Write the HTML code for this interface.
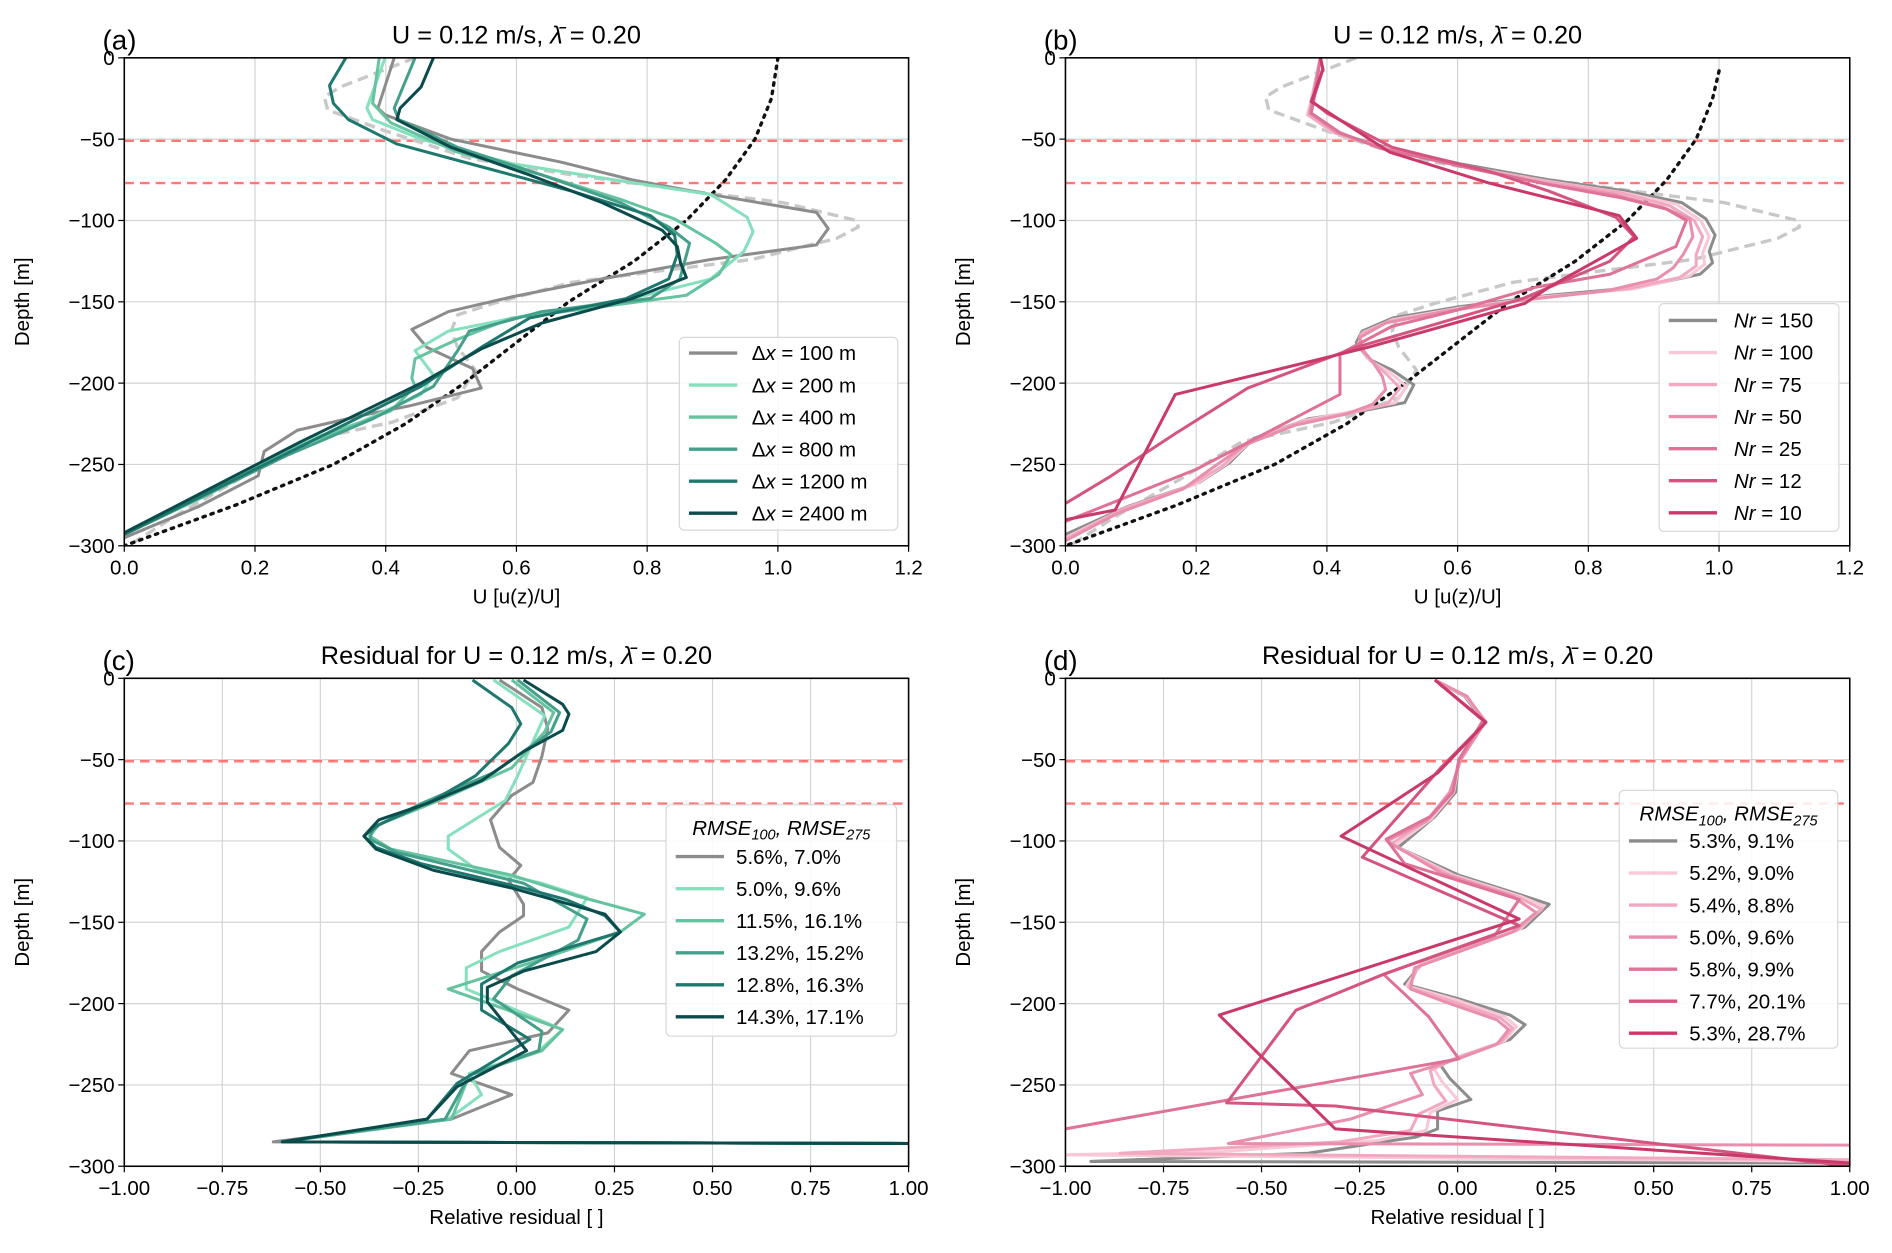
<!DOCTYPE html>
<html><head><meta charset="utf-8"><style>
html,body{margin:0;padding:0;background:#fff;}
svg{display:block;font-family:"Liberation Sans","DejaVu Sans",sans-serif;}
</style></head><body>
<svg id="fig" width="1892" height="1253" viewBox="0 0 1568 1040" preserveAspectRatio="none" xmlns="http://www.w3.org/2000/svg"></svg>
<script>
// ---------- data ----------
const depthTicks=[0,-50,-100,-150,-200,-250,-300];
const uTicks=[0,0.2,0.4,0.6,0.8,1.0,1.2];
const rTicks=[-1,-0.75,-0.5,-0.25,0,0.25,0.5,0.75,1];
const mldDepths=[-51,-77];
const refDepth=[0,-18,-24,-32,-45,-62,-72,-82,-89,-100,-104,-111,-124,-131,-138,-151,-158,-168,-178,-192,-209,-224,-236,-258,-280,-299];
const refU=[0.445,0.33,0.306,0.311,0.4,0.53,0.685,0.87,1.008,1.12,1.123,1.09,0.96,0.82,0.685,0.565,0.51,0.5,0.51,0.537,0.51,0.41,0.27,0.18,0.085,0.01];
const theoryDepth=[0,-25,-50,-75,-100,-125,-150,-175,-200,-225,-250,-275,-300];
const theoryU=[1.0,0.99,0.965,0.92,0.86,0.78,0.68,0.6,0.52,0.43,0.32,0.17,0.0];
const theoryDepthB=[-8,-25,-50,-75,-100,-125,-150,-175,-200,-225,-250,-275,-300];

const dxLabels=["Δx = 100 m","Δx = 200 m","Δx = 400 m","Δx = 800 m","Δx = 1200 m","Δx = 2400 m"];
const dx100=[[0.413,0],[0.388,-31],[0.399,-35],[0.5,-50],[0.667,-64],[0.777,-75],[0.897,-84],[1.059,-95],[1.077,-105],[1.059,-115],[0.897,-124],[0.73,-136],[0.593,-147],[0.496,-156],[0.44,-167],[0.463,-178],[0.533,-191],[0.546,-203],[0.436,-214],[0.362,-220],[0.265,-229],[0.214,-242],[0.205,-257],[0.113,-276],[0,-295]];
const dx200=[[0.399,0],[0.371,-31],[0.38,-38],[0.454,-50],[0.593,-65],[0.75,-75],[0.897,-84],[0.953,-98],[0.962,-107],[0.948,-119],[0.897,-136],[0.777,-148],[0.62,-158],[0.496,-168],[0.445,-180],[0.473,-195],[0.454,-207],[0.362,-224],[0.288,-234],[0.223,-246],[0.113,-271],[0,-293]];
const dx400=[[0.39,0],[0.38,-28],[0.408,-40],[0.51,-58],[0.639,-72],[0.759,-87],[0.842,-99],[0.905,-114],[0.928,-121],[0.91,-133],[0.86,-146],[0.73,-153],[0.593,-160],[0.51,-173],[0.445,-185],[0.44,-197],[0.445,-202],[0.408,-217],[0.251,-241],[0.131,-268],[0,-293]];
const dx800=[[0.445,0],[0.413,-31],[0.42,-38],[0.51,-55],[0.639,-72],[0.759,-89],[0.833,-104],[0.865,-114],[0.85,-136],[0.805,-148],[0.639,-156],[0.528,-168],[0.51,-180],[0.473,-202],[0.38,-222],[0.251,-244],[0,-293]];
const dx1200=[[0.339,0],[0.314,-17],[0.32,-28],[0.343,-38],[0.417,-53],[0.546,-67],[0.685,-82],[0.805,-97],[0.842,-109],[0.846,-121],[0.833,-136],[0.768,-148],[0.62,-160],[0.546,-178],[0.454,-202],[0.27,-239],[0,-293]];
const dx2400=[[0.473,0],[0.454,-18],[0.422,-31],[0.417,-38],[0.5,-55],[0.62,-72],[0.731,-89],[0.823,-106],[0.846,-116],[0.851,-126],[0.86,-135],[0.777,-148],[0.639,-163],[0.546,-179],[0.454,-200],[0.27,-236],[0,-292]];
const dxColors=["#8c8c8c","#86e0bd","#66c3a0","#44a08a","#1f786d","#0b4b4b"];

const nrLabels=["Nr = 150","Nr = 100","Nr = 75","Nr = 50","Nr = 25","Nr = 12","Nr = 10"];
const nr150=[[0.39,0],[0.376,-26],[0.371,-35],[0.408,-45],[0.471,-53],[0.602,-65],[0.74,-75],[0.86,-82],[0.943,-89],[0.98,-99],[0.994,-109],[0.985,-119],[0.99,-126],[0.971,-133],[0.879,-141],[0.74,-146],[0.602,-153],[0.5,-160],[0.454,-168],[0.445,-175],[0.463,-185],[0.5,-192],[0.533,-201],[0.519,-212],[0.454,-217],[0.371,-222],[0.288,-234],[0.251,-249],[0.205,-261],[0.094,-276],[0,-293]];
const nr100=[[0.39,0],[0.376,-26],[0.37,-35],[0.41,-46],[0.475,-54],[0.6,-66],[0.74,-76],[0.855,-83],[0.935,-90],[0.972,-100],[0.985,-110],[0.975,-120],[0.978,-127],[0.955,-134],[0.87,-142],[0.73,-147],[0.6,-154],[0.5,-161],[0.455,-169],[0.448,-176],[0.465,-186],[0.495,-193],[0.522,-202],[0.505,-212],[0.445,-217],[0.365,-223],[0.285,-235],[0.245,-250],[0.2,-262],[0.09,-277],[0,-295]];
const nr75=[[0.39,0],[0.377,-26],[0.372,-35],[0.412,-46],[0.478,-54],[0.6,-66],[0.735,-76],[0.85,-83],[0.925,-91],[0.962,-100],[0.975,-110],[0.965,-121],[0.965,-128],[0.94,-135],[0.86,-142],[0.72,-148],[0.59,-155],[0.495,-162],[0.452,-170],[0.45,-177],[0.468,-186],[0.49,-194],[0.512,-203],[0.492,-213],[0.44,-218],[0.36,-224],[0.28,-236],[0.24,-251],[0.19,-263],[0.085,-278],[0,-296]];
const nr50=[[0.39,0],[0.378,-26],[0.374,-34],[0.415,-46],[0.48,-55],[0.6,-66],[0.73,-77],[0.84,-84],[0.915,-92],[0.955,-99],[0.96,-110],[0.945,-121],[0.93,-129],[0.905,-136],[0.83,-143],[0.7,-149],[0.58,-156],[0.49,-163],[0.45,-172],[0.455,-180],[0.47,-187],[0.485,-196],[0.49,-204],[0.47,-213],[0.43,-219],[0.35,-226],[0.275,-238],[0.225,-252],[0.18,-265],[0.08,-280],[0,-297]];
const nr25=[[0.39,0],[0.38,-26],[0.376,-34],[0.42,-46],[0.485,-56],[0.62,-68],[0.74,-78],[0.85,-86],[0.92,-93],[0.95,-100],[0.934,-116],[0.833,-133],[0.72,-141],[0.6,-155],[0.5,-165],[0.42,-182],[0.42,-207],[0.2,-253],[0,-285]];
const nr12=[[0.39,0],[0.394,-7],[0.378,-27],[0.4,-34],[0.5,-55],[0.65,-70],[0.74,-82],[0.842,-98],[0.87,-110],[0.833,-125],[0.7,-148],[0.445,-178],[0.279,-203],[0.168,-231],[0.066,-258],[0,-274]];
const nr10=[[0.39,0],[0.394,-7],[0.376,-27],[0.4,-33],[0.496,-58],[0.648,-77],[0.847,-97],[0.874,-111],[0.74,-141],[0.703,-151],[0.463,-178],[0.168,-207],[0.076,-278],[0,-284]];
const nrColors=["#8c8c8c","#f8c8d7","#f2a9c0","#e98fad","#de7297","#d45580","#c9396a"];

const rmseDx=["5.6%, 7.0%","5.0%, 9.6%","11.5%, 16.1%","13.2%, 15.2%","12.8%, 16.3%","14.3%, 17.1%"];
const res100=[[-0.043,-1],[0.065,-18],[0.08,-31],[0.065,-48],[0.042,-64],[-0.012,-72],[-0.066,-87],[-0.043,-104],[0.011,-115],[-0.02,-124],[0.018,-139],[0.018,-146],[-0.043,-156],[-0.089,-168],[-0.089,-180],[0.003,-191],[0.134,-204],[0.08,-218],[-0.12,-229],[-0.166,-243],[-0.012,-256],[-0.166,-271],[-0.62,-285],[1,-286]];
const res200=[[-0.058,-1],[0.072,-23],[0.003,-60],[-0.028,-75],[-0.174,-97],[-0.174,-105],[-0.105,-117],[0.065,-126],[0.18,-135],[0.134,-153],[-0.043,-168],[-0.128,-178],[-0.128,-191],[0.118,-216],[0.057,-229],[-0.12,-243],[-0.089,-256],[-0.174,-271],[-0.597,-285],[1,-286]];
const res400=[[-0.012,-1],[0.095,-21],[0.072,-33],[-0.012,-55],[-0.197,-75],[-0.351,-90],[-0.374,-97],[-0.32,-105],[-0.012,-121],[0.157,-134],[0.326,-145],[0.265,-156],[0.034,-175],[-0.174,-191],[0.118,-216],[0.065,-229],[-0.12,-244],[-0.166,-271],[-0.597,-285],[1,-286]];
const res800=[[0.003,-1],[0.11,-21],[0.088,-33],[-0.058,-58],[-0.243,-77],[-0.366,-92],[-0.374,-99],[-0.305,-107],[0.018,-126],[0.18,-148],[0.157,-161],[-0.012,-183],[-0.058,-197],[0.065,-217],[0.057,-229],[-0.12,-244],[-0.182,-271],[-0.597,-285],[1,-286]];
const res1200=[[-0.112,-1],[-0.012,-18],[0.011,-28],[-0.02,-40],[-0.105,-60],[-0.212,-75],[-0.351,-90],[-0.389,-97],[-0.358,-104],[-0.243,-114],[0.018,-129],[0.126,-136],[0.226,-146],[0.265,-156],[0.003,-175],[-0.089,-188],[-0.089,-204],[0.034,-222],[-0.151,-249],[-0.228,-271],[-0.597,-285],[1,-286]];
const res2400=[[0.018,-1],[0.118,-16],[0.134,-22],[0.118,-32],[0.018,-45],[-0.089,-63],[-0.228,-77],[-0.351,-87],[-0.389,-97],[-0.358,-105],[-0.212,-118],[-0.012,-129],[0.226,-145],[0.265,-156],[0.203,-168],[0.018,-180],[-0.074,-190],[-0.074,-199],[0.026,-229],[-0.151,-251],[-0.228,-271],[-0.597,-285],[1,-286]];

const rmseNr=["5.3%, 9.1%","5.2%, 9.0%","5.4%, 8.8%","5.0%, 9.6%","5.8%, 9.9%","7.7%, 20.1%","5.3%, 28.7%"];
const rNr150=[[-0.058,-1],[0.018,-11],[0.065,-26],[0.003,-50],[-0.005,-70],[-0.058,-85],[-0.151,-104],[0.003,-121],[0.172,-134],[0.234,-139],[0.172,-153],[0.08,-161],[-0.089,-175],[-0.135,-188],[0.003,-197],[0.134,-207],[0.172,-213],[0.134,-222],[0.011,-232],[-0.043,-238],[-0.02,-246],[0.034,-259],[-0.051,-266],[-0.051,-277],[-0.105,-282],[-0.382,-292],[-0.935,-297],[1,-298]];
const rNr100=[[-0.058,-1],[0.02,-11],[0.068,-26],[0.005,-50],[-0.01,-70],[-0.065,-86],[-0.16,-103],[-0.01,-121],[0.16,-134],[0.22,-140],[0.16,-154],[0.07,-162],[-0.095,-176],[-0.13,-189],[0.0,-198],[0.12,-208],[0.15,-214],[0.12,-223],[0.0,-233],[-0.06,-240],[-0.04,-248],[0.0,-259],[-0.07,-267],[-0.08,-278],[-0.2,-284],[-0.6,-291],[-1,-293],[1,-297]];
const rNr75=[[-0.058,-1],[0.022,-11],[0.07,-26],[0.006,-50],[-0.015,-70],[-0.07,-86],[-0.17,-102],[-0.02,-121],[0.15,-134],[0.215,-142],[0.15,-155],[0.06,-163],[-0.1,-177],[-0.125,-190],[-0.01,-199],[0.11,-209],[0.14,-215],[0.11,-224],[-0.01,-234],[-0.07,-241],[-0.06,-250],[-0.03,-260],[-0.1,-268],[-0.12,-278],[-0.3,-285],[-0.86,-292],[1,-296]];
const rNr50=[[-0.058,-1],[0.024,-11],[0.07,-27],[0.008,-50],[-0.02,-70],[-0.08,-88],[-0.18,-100],[-0.04,-120],[0.14,-134],[0.2,-144],[0.14,-156],[0.05,-164],[-0.11,-178],[-0.12,-191],[-0.02,-200],[0.1,-210],[0.13,-216],[0.1,-225],[0.0,-234],[-0.12,-243],[-0.09,-256],[-0.274,-271],[-0.585,-286],[1,-287]];
const rNr25=[[-0.058,-1],[0.065,-26],[0.003,-50],[-0.012,-70],[-0.07,-85],[-0.182,-99],[-0.135,-114],[0.157,-136],[0.095,-158],[-0.05,-170],[-0.189,-182],[-0.074,-208],[0.003,-234],[-1,-277]];
const rNr12=[[-0.058,-1],[0.072,-27],[-0.043,-55],[-0.243,-110],[0.157,-152],[-0.189,-182],[-0.412,-204],[-0.589,-261],[-0.312,-263],[1,-300]];
const rNr10=[[-0.058,-1],[0.072,-27],[-0.05,-58],[-0.297,-97],[0.157,-148],[-0.608,-207],[-0.312,-277],[1,-298]];

// ---------- drawing ----------
const svg=document.getElementById('fig');
const NS='http://www.w3.org/2000/svg';
function mk(tag,attrs,parent){const e=document.createElementNS(NS,tag);for(const k in attrs)e.setAttribute(k,attrs[k]);(parent||svg).appendChild(e);return e;}
function fmt(v,dec){let s=v.toFixed(dec);if(v<0)s='−'+s.slice(1);return s;}

function panel(o){
  const g=mk('g',{});
  
  
  const X=v=>o.x0+(v-o.xmin)/(o.xmax-o.xmin)*(o.x1-o.x0);
  const Y=d=>o.y0+(-d)/300*(o.y1-o.y0);
  o.xt.forEach(t=>{const l=mk('line',{x1:X(t),x2:X(t),y1:o.y0,y2:o.y1,stroke:'#d4d4d4','stroke-width':1},g);});
  depthTicks.forEach(t=>{const l=mk('line',{x1:o.x0,x2:o.x1,y1:Y(t),y2:Y(t),stroke:'#d4d4d4','stroke-width':1},g);});
  mldDepths.forEach(d=>{const l=mk('line',{x1:o.x0,x2:o.x1,y1:Y(d),y2:Y(d),stroke:'#ff6b6b','stroke-width':2,'stroke-dasharray':'8,5',opacity:0.9},g);});
  const clip='c'+o.name;
  const cp=mk('clipPath',{id:clip},g);mk('rect',{x:o.x0,y:o.y0,width:o.x1-o.x0,height:o.y1-o.y0},cp);
  const lg=mk('g',{'clip-path':'url(#'+clip+')'},g);
  function poly(pts,attrs,name){const d=pts.map((p,i)=>(i?'L':'M')+X(p[0]).toFixed(1)+','+Y(p[1]).toFixed(1)).join(' ');const p=mk('path',Object.assign({d:d,fill:'none','stroke-linejoin':'round'},attrs),lg);}
  if(o.ref){poly(refU.map((u,i)=>[u,refDepth[i]]),{stroke:'#c8c8c8','stroke-width':2.8,'stroke-dasharray':'9,5'},'reference-profile');
    const td=o.tdepth;
    poly(theoryU.map((u,i)=>[u,td[i]]),{stroke:'#111','stroke-width':2.8,'stroke-dasharray':'2,5','stroke-linecap':'round'},'theory-profile');}
  o.series.forEach((s,i)=>poly(s,{stroke:o.colors[i],'stroke-width':2.5},'series-'+o.keys[i]));
  const fr=mk('rect',{x:o.x0,y:o.y0,width:o.x1-o.x0,height:o.y1-o.y0,fill:'none',stroke:'#000','stroke-width':1.3},g);
  o.xt.forEach(t=>{mk('line',{x1:X(t),x2:X(t),y1:o.y1,y2:o.y1+5,stroke:'#000'},g);const tx=mk('text',{x:X(t),y:o.y1+24,'text-anchor':'middle','font-size':17},g);tx.textContent=fmt(t,o.dec);});
  depthTicks.forEach(t=>{mk('line',{x1:o.x0-5,x2:o.x0,y1:Y(t),y2:Y(t),stroke:'#000'},g);const tx=mk('text',{x:o.x0-8,y:Y(t)+6,'text-anchor':'end','font-size':17},g);tx.textContent=t===0?'0':fmt(t,0);});
  const xl=mk('text',{x:(o.x0+o.x1)/2,y:o.y1+48,'text-anchor':'middle','font-size':17},g);xl.textContent=o.xlabel;
  const yl=mk('text',{x:0,y:0,'text-anchor':'middle','font-size':17,transform:`translate(${o.x0-79},${(o.y0+o.y1)/2}) rotate(-90)`},g);yl.textContent='Depth [m]';
  const ti=mk('text',{x:(o.x0+o.x1)/2,y:o.y0-12,'text-anchor':'middle','font-size':21},g);ti.innerHTML=o.title+'<tspan font-style="italic">λ̄</tspan> = 0.20';
  const pl=mk('text',{x:o.x0-18,y:o.y0-7,'font-size':23},g);pl.textContent=o.letter;
  const L=o.leg;const lb=mk('rect',{x:L.x,y:L.y,width:L.w,height:L.h,rx:4,fill:'#fff','fill-opacity':0.85,stroke:'#d8d8d8'},g);
  let y=L.y+L.first;
  if(L.title){const tt=mk('text',{x:L.x+L.w/2,y:L.y+25,'text-anchor':'middle','font-size':17,'font-style':'italic'},g);tt.innerHTML='RMSE<tspan font-size="12" dy="4">100</tspan><tspan dy="-4">, RMSE</tspan><tspan font-size="12" dy="4">275</tspan>';}
  o.labels.forEach((lab,i)=>{const ln=mk('line',{x1:L.x+8,x2:L.x+48,y1:y+i*26.6,y2:y+i*26.6,stroke:o.colors[i],'stroke-width':2.8},g);
    const t=mk('text',{x:L.x+L.tx,y:y+i*26.6+6,'font-size':17},g);
    if(o.italicNr){t.innerHTML='<tspan font-style="italic">Nr</tspan>'+lab.slice(2);}else if(lab.startsWith('Δx')){t.innerHTML='Δ<tspan font-style="italic">x</tspan>'+lab.slice(2);}else t.textContent=lab;
    });
}
const T='U = 0.12 m/s, ', TR='Residual for U = 0.12 m/s, ';
panel({name:'panel-a',letter:'(a)',x0:103,x1:753,y0:48,y1:453,xmin:0,xmax:1.2,xt:uTicks,dec:1,xlabel:'U [u(z)/U]',title:T,ref:true,tdepth:theoryDepth,
  series:[dx100,dx200,dx400,dx800,dx1200,dx2400],keys:['dx100','dx200','dx400','dx800','dx1200','dx2400'],colors:dxColors,labels:dxLabels,
  leg:{x:563,y:280,w:181,h:160,first:13,tx:60}});
panel({name:'panel-b',letter:'(b)',x0:883,x1:1533,y0:48,y1:453,xmin:0,xmax:1.2,xt:uTicks,dec:1,xlabel:'U [u(z)/U]',title:T,ref:true,italicNr:true,tdepth:theoryDepthB,
  series:[nr150,nr100,nr75,nr50,nr25,nr12,nr10],keys:['nr150','nr100','nr75','nr50','nr25','nr12','nr10'],colors:nrColors,labels:nrLabels,
  leg:{x:1375,y:252,w:149,h:189,first:14,tx:62}});
panel({name:'panel-c',letter:'(c)',x0:103,x1:753,y0:563,y1:968,xmin:-1,xmax:1,xt:rTicks,dec:2,xlabel:'Relative residual [ ]',title:TR,
  series:[res100,res200,res400,res800,res1200,res2400],keys:['dx100','dx200','dx400','dx800','dx1200','dx2400'],colors:dxColors,labels:rmseDx,
  leg:{x:552,y:668,w:191,h:192,first:43,tx:58,title:true}});
panel({name:'panel-d',letter:'(d)',x0:883,x1:1533,y0:563,y1:968,xmin:-1,xmax:1,xt:rTicks,dec:2,xlabel:'Relative residual [ ]',title:TR,
  series:[rNr150,rNr100,rNr75,rNr50,rNr25,rNr12,rNr10],keys:['nr150','nr100','nr75','nr50','nr25','nr12','nr10'],colors:nrColors,labels:rmseNr,
  leg:{x:1342,y:656,w:181,h:214,first:42,tx:58,title:true}});
</script>
</body></html>
